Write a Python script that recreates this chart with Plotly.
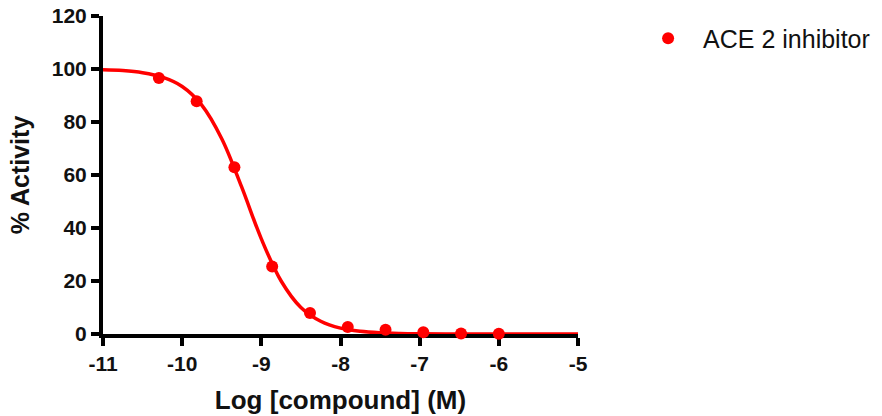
import plotly.graph_objects as go

# Measured data points (log molar concentration, % activity)
log_conc = [-10.294, -9.817, -9.340, -8.863, -8.385, -7.908, -7.431, -6.954, -6.477, -6.000]
activity = [96.6, 87.8, 62.9, 25.5, 7.9, 2.6, 1.6, 0.7, 0.2, 0.1]

# Fitted curve
curve_x = [-11.0, -10.75, -10.5, -10.25, -10.0, -9.75, -9.5, -9.25, -9.0, -8.75,
           -8.5, -8.25, -8.0, -7.75, -7.5, -7.25, -7.0, -6.5, -6.0, -5.5, -5.0]
curve_y = [99.7, 99.4, 98.6, 96.9, 93.4, 86.3, 73.7, 55.6, 35.9, 20.0,
           10.0, 4.8, 2.2, 1.0, 0.45, 0.2, 0.09, 0.02, 0.0, 0.0, 0.0]

x_ticks = [-11, -10, -9, -8, -7, -6, -5]
y_ticks = [0, 20, 40, 60, 80, 100, 120]

series_name = "ACE 2 inhibitor"
red = "#ff0000"
font_family = "Liberation Sans, Arial, sans-serif"

fig = go.Figure()
fig.add_trace(go.Scatter(
    x=curve_x, y=curve_y, mode="lines", line=dict(color=red, width=3.5, shape="spline", smoothing=1.0),
    showlegend=False, hoverinfo="skip"))
fig.add_trace(go.Scatter(
    x=log_conc, y=activity, mode="markers", name=series_name,
    marker=dict(color=red, size=12), cliponaxis=False))

axis_common = dict(
    showgrid=False, zeroline=False, showline=True, linecolor="black", linewidth=4,
    ticks="outside", ticklen=8, tickwidth=3.5, tickcolor="black",
    tickfont=dict(size=21, family=font_family, color="#111111", weight="bold"),
    ticklabeloverflow="allow", automargin=False, layer="below traces")

fig.update_layout(
    width=882, height=416,
    margin=dict(l=103, r=304, t=16, b=82),
    plot_bgcolor="white", paper_bgcolor="white",
    font=dict(family=font_family, color="#111111"),
    legend=dict(x=0.7178, y=0.963, xanchor="left", yanchor="top", xref="container", yref="container",
                font=dict(size=25, color="#111111"), itemwidth=60, bgcolor="rgba(0,0,0,0)"),
    xaxis=dict(range=[-11, -5], tickvals=x_ticks, ticktext=[str(v) for v in x_ticks],
               title=dict(text="<b>Log [compound] (M)</b>", font=dict(size=26), standoff=18),
               **axis_common),
    yaxis=dict(range=[0, 120], tickvals=y_ticks, ticktext=[str(v) for v in y_ticks],
               title=dict(text="<b>% Activity</b>", font=dict(size=25), standoff=16),
               **axis_common),
)

fig.write_html("out.html", config={"displayModeBar": False},
               post_script="document.body.style.margin='0';")
